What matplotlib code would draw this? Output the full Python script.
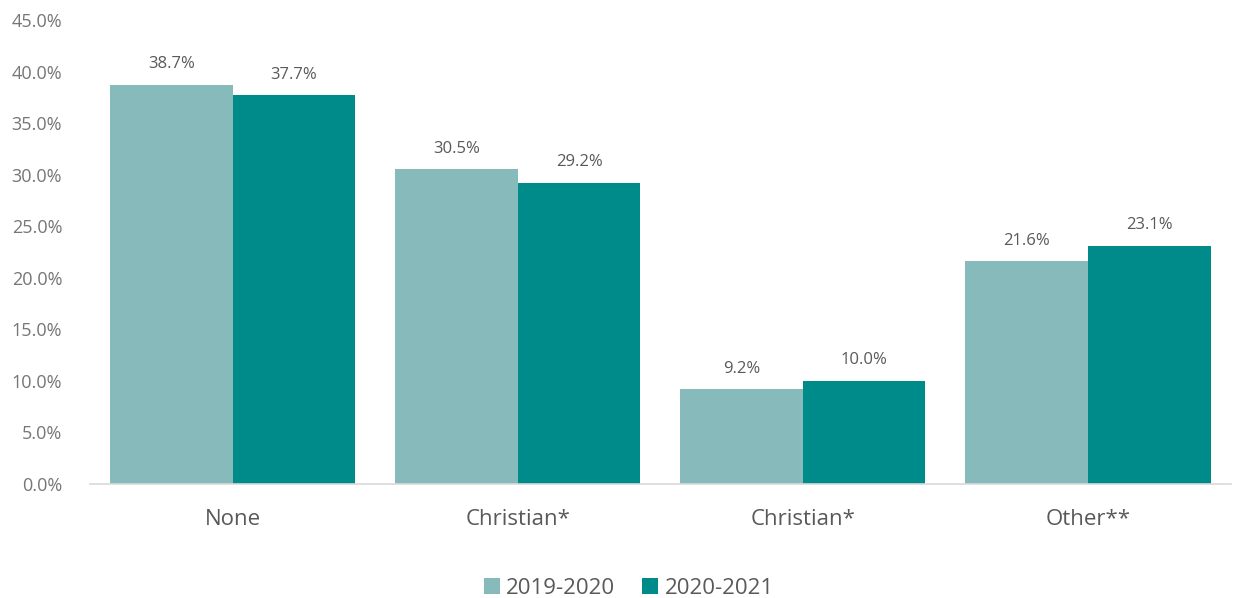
import matplotlib
matplotlib.use("Agg")
import matplotlib.pyplot as plt
import numpy as np
from matplotlib.ticker import FuncFormatter

categories = ["None", "Christian*", "Christian*", "Other**"]
series_names = ["2019-2020", "2020-2021"]
values_2019 = [38.7, 30.5, 9.2, 21.6]
values_2020 = [37.7, 29.2, 10.0, 23.1]
yticks = [0, 5, 10, 15, 20, 25, 30, 35, 40, 45]

colors = ["#87BBBB", "#008B8B"]
text_color = "#595959"
tick_color = "#767676"
plt.rcParams['font.family'] = ['Open Sans', 'DejaVu Sans']

fig = plt.figure(figsize=(12.33, 5.98), dpi=100)
ax = fig.add_axes([0.073, 0.1906, 0.925, 0.776])

x = np.arange(len(categories))
w = 0.43
b1 = ax.bar(x - w/2, values_2019, w, color=colors[0], label=series_names[0])
b2 = ax.bar(x + w/2, values_2020, w, color=colors[1], label=series_names[1])

for bars, vals in ((b1, values_2019), (b2, values_2020)):
    for r, v in zip(bars, vals):
        ax.annotate(f"{v:.1f}%", (r.get_x() + r.get_width()/2, v),
                    xytext=(0, 9), textcoords="offset points",
                    ha="center", va="bottom", fontsize=12, color=text_color)

ax.set_xlim(-0.5, len(categories) - 0.5)
ax.set_ylim(0, 45)
ax.set_yticks(yticks)
ax.yaxis.set_major_formatter(FuncFormatter(lambda v, p: f"{v:.1f}%"))
ax.set_xticks(x)
ax.set_xticklabels(categories)
ax.tick_params(axis='y', length=0, labelsize=13, labelcolor=tick_color, pad=20)
ax.tick_params(axis='x', length=0, labelsize=16, labelcolor=text_color, pad=18)
for s in ("top", "right", "left"):
    ax.spines[s].set_visible(False)
ax.spines["bottom"].set_color("#D9D9D9")
ax.spines["bottom"].set_linewidth(1.2)

leg = fig.legend(loc="lower center", bbox_to_anchor=(0.51, -0.035), ncol=2,
                 frameon=False, fontsize=16, handlelength=0.7, handleheight=0.7,
                 handletextpad=0.3, columnspacing=1.2, labelcolor=text_color)

fig.savefig("out.png", dpi=100)
